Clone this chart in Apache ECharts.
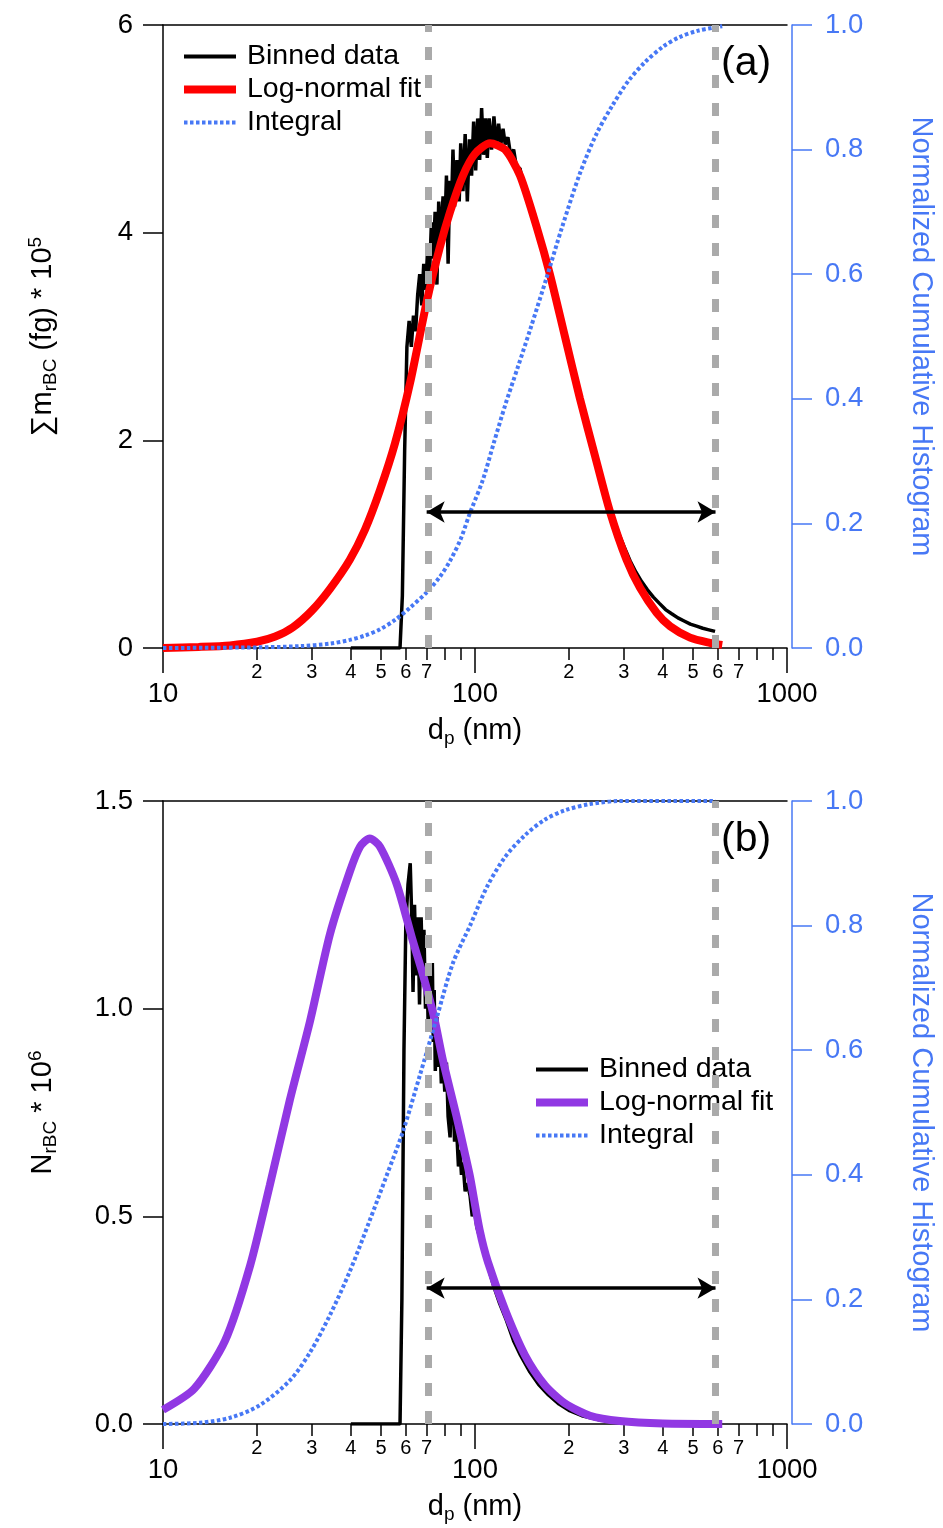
<!DOCTYPE html>
<html><head><meta charset="utf-8">
<script src="https://cdn.jsdelivr.net/npm/echarts@6/dist/echarts.min.js"></script>
<style>html,body{margin:0;padding:0;background:#fff}#c{width:943px;height:1528px}</style>
</head><body><div id="c"></div>
<script>
// ---------- tick labels ----------
const majorTicks = [10, 100, 1000];
const minorTicks = [20, 30, 40, 50, 60, 70, 80, 90, 200, 300, 400, 500, 600, 700, 800, 900];
const minorLabels = [20, 30, 40, 50, 60, 70, 200, 300, 400, 500, 600, 700];
const cutoffs = [70, 590];          // dashed lines, nm
const arrowLevelA = 1.31;          // arrow height, panel (a) left axis
const arrowLevelB = 0.327;         // arrow height, panel (b) left axis

// ---------- panel (a): [d (nm), value] ----------
const binnedA = [[40,0],[45,0],[50,0],[55,0],[57.5,0],[58.5,0.5],[59.5,1.9],[60.5,2.9],[61.5,3.15],[62.5,2.9],[63.5,3.2],[64.5,3.05],[65.5,3.4],[66.5,3.6],[67.5,3.3],[68.5,3.7],[69.5,3.45],[70.5,3.85],[71.5,3.6],[72.5,4.1],[73.5,3.75],[74.5,4.2],[75.5,3.5],[76.5,4.3],[77.5,3.9],[79,4.35],[80,4.0],[81,4.55],[82,3.7],[83,4.5],[84,4.2],[85,4.8],[86,4.25],[87.5,4.7],[89,4.3],[90,4.86],[91.5,4.4],[93,4.95],[94.5,4.3],[96,4.9],[97.5,4.55],[99,5.07],[100.5,4.6],[102,5.1],[103.5,4.7],[105,5.2],[106.5,4.75],[108,5.1],[109.5,4.72],[111,5.1],[113,4.8],[115,5.12],[117,4.82],[119,5.05],[121,4.85],[123,5.0],[125,4.85],[127.5,4.92],[130,4.75],[133,4.8],[136,4.62],[139.4,4.62],[143,4.45],[147,4.4],[151,4.25],[155,4.18],[159,4.05],[164,3.92],[169,3.78],[174,3.65],[180,3.45],[186,3.28],[194,3.05],[202,2.82],[210,2.62],[217,2.45],[226,2.22],[235,2.02],[245,1.82],[256,1.6],[266,1.42],[277,1.26],[289,1.1],[301,0.97],[314,0.84],[328,0.73],[342,0.64],[357,0.56],[373,0.49],[390,0.43],[408,0.37],[427,0.33],[447,0.29],[468,0.26],[490,0.23],[513,0.21],[537,0.19],[562,0.175],[588,0.16]];
const fitA = [[10,0.0],[13,0.01],[16.4,0.025],[20,0.06],[22.9,0.11],[26.1,0.2],[30,0.36],[34.3,0.57],[39.7,0.85],[44.4,1.14],[49.6,1.52],[55.4,1.97],[61.9,2.55],[70.2,3.35],[77,3.85],[83.2,4.2],[91.5,4.55],[100,4.76],[111.7,4.86],[124.8,4.8],[139.4,4.55],[158.5,4.03],[173.8,3.6],[194.2,3.0],[217,2.4],[242.5,1.85],[271,1.31],[306,0.85],[338,0.58],[382,0.34],[422,0.21],[489,0.1],[566,0.05],[620,0.03]];
const integralA = [[10,0],[20,0.001],[27.5,0.003],[34.3,0.007],[39.7,0.013],[44.4,0.02],[49.6,0.03],[55.4,0.045],[62,0.065],[70.2,0.09],[77.1,0.114],[83.2,0.14],[90,0.175],[96.4,0.217],[106,0.27],[115,0.33],[125,0.39],[137,0.45],[150,0.51],[170,0.596],[190,0.675],[217,0.762],[245,0.825],[275,0.87],[310,0.91],[350,0.94],[400,0.965],[450,0.98],[520,0.991],[620,0.998]];

// ---------- panel (b) ----------
const binnedB = [[40,0],[45,0],[50,0],[55,0],[57.5,0],[58.3,0.3],[59.2,0.9],[60,1.2],[61,1.3],[62,1.35],[62.8,1.2],[63.3,1.04],[64,1.25],[64.8,1.08],[65.6,1.22],[66.4,1.01],[67.2,1.22],[68,1.06],[68.6,1.19],[69.4,1.0],[70.2,1.11],[70.8,0.95],[71.6,1.1],[72.4,0.98],[73,1.11],[73.5,0.92],[74,1.045],[74.6,0.85],[75.5,0.98],[76.3,0.86],[77.1,0.93],[78,0.82],[79,0.88],[80,0.8],[81,0.87],[82,0.74],[83.2,0.69],[84,0.8],[85,0.79],[86,0.68],[87.3,0.71],[88.5,0.62],[89.5,0.66],[90.5,0.6],[91.5,0.63],[93,0.56],[94.5,0.58],[96.4,0.55],[98,0.5],[99.5,0.52],[101.3,0.475],[103.5,0.45],[106,0.42],[110,0.38],[115,0.33],[120,0.29],[126,0.25],[133,0.2],[140,0.165],[150,0.125],[160,0.095],[172,0.07],[186,0.048],[200,0.033],[220,0.02],[250,0.01],[290,0.005],[350,0.002],[450,0.001],[590,0]];
const fitB = [[10,0.034],[12.6,0.085],[15.8,0.2],[19,0.38],[22,0.575],[25.5,0.78],[29.6,0.97],[34.3,1.18],[39.7,1.33],[42.8,1.39],[46,1.41],[49.6,1.39],[56.1,1.3],[63.1,1.165],[68.2,1.08],[73.9,0.98],[78.9,0.876],[87.3,0.74],[92.9,0.65],[96.4,0.595],[103.5,0.467],[110,0.39],[124.8,0.275],[144.5,0.166],[167.3,0.094],[194,0.05],[233.6,0.02],[291,0.007],[400,0.001],[620,0]];
const integralB = [[10,0],[13.1,0.002],[16.4,0.01],[20.4,0.03],[25.5,0.07],[29.6,0.115],[34.3,0.175],[39.7,0.245],[46,0.327],[52.2,0.4],[58.8,0.47],[66.6,0.56],[75.5,0.653],[85,0.74],[96.4,0.8],[109.2,0.862],[124.8,0.91],[144.5,0.945],[167.3,0.97],[194.2,0.985],[233.6,0.995],[291,1.0],[591,1.0]];

// ---------- build ----------
const FONT = '"Liberation Sans", Arial, Helvetica, sans-serif';
const BLUE = '#4778f5';
const L = d => Math.log10(d);
const toXY = arr => arr.map(p => [L(p[0]), p[1]]);
const rich = {
  n: {fontSize: 29, fontFamily: FONT, color: '#000', lineHeight: 34},
  s: {fontSize: 19, fontFamily: FONT, color: '#000', verticalAlign: 'bottom', lineHeight: 15},
  p: {fontSize: 19, fontFamily: FONT, color: '#000', verticalAlign: 'top', lineHeight: 15}
};

function xAxes(g) {
  return [
    { gridIndex: g, type: 'value', min: 1, max: 3, position: 'bottom',
      axisLine: {show: true, onZero: false, lineStyle: {color: '#000', width: 1.5}},
      axisTick: {show: true, inside: false, length: 25, customValues: majorTicks.map(L), lineStyle: {color: '#000', width: 1.5}},
      axisLabel: {show: true, customValues: majorTicks.map(L), margin: 32, fontSize: 27.5, fontFamily: FONT, color: '#000',
        formatter: v => String(Math.round(Math.pow(10, v)))},
      splitLine: {show: false},
      name: '{n|d}{s|p}{n| (nm)}', nameLocation: 'middle', nameGap: 66,
      nameTextStyle: {rich: rich}
    },
    { gridIndex: g, type: 'value', min: 1, max: 3, position: 'bottom',
      axisLine: {show: false, onZero: false},
      axisTick: {show: true, inside: false, length: 12, customValues: minorTicks.map(L), lineStyle: {color: '#000', width: 1.5}},
      axisLabel: {show: true, customValues: minorLabels.map(L), margin: 14, fontSize: 20, fontFamily: FONT, color: '#000',
        formatter: v => { const d = Math.round(Math.pow(10, v)); return String(Math.round(d / Math.pow(10, Math.floor(Math.log10(d) + 1e-9)))); }},
      splitLine: {show: false}
    },
    { gridIndex: g, type: 'value', min: 1, max: 3, position: 'top',
      axisLine: {show: true, onZero: false, lineStyle: {color: '#000', width: 1.5}},
      axisTick: {show: false}, axisLabel: {show: false}, splitLine: {show: false}
    }
  ];
}
function yAxes(g, max, interval, name) {
  return [
    { gridIndex: g, type: 'value', min: 0, max: max, interval: interval, position: 'left',
      axisLine: {show: true, onZero: false, lineStyle: {color: '#000', width: 1.5}},
      axisTick: {show: true, inside: false, length: 20, lineStyle: {color: '#000', width: 1.5}},
      axisLabel: {margin: 30, fontSize: 27.5, fontFamily: FONT, color: '#000',
        formatter: v => (interval < 1 ? v.toFixed(1) : String(Math.round(v)))},
      splitLine: {show: false},
      name: name, nameLocation: 'middle', nameGap: 103, nameRotate: 90,
      nameTextStyle: {rich: rich}
    },
    { gridIndex: g, type: 'value', min: 0, max: 1, interval: 0.2, position: 'right', offset: 5,
      axisLine: {show: true, onZero: false, lineStyle: {color: BLUE, width: 1.5}},
      axisTick: {show: true, inside: false, length: 20, lineStyle: {color: BLUE, width: 1.5}},
      axisLabel: {margin: 33, fontSize: 27.5, fontFamily: FONT, color: BLUE, formatter: v => v.toFixed(1)},
      splitLine: {show: false},
      name: 'Normalized Cumulative Histogram', nameLocation: 'middle', nameGap: 114, nameRotate: -90,
      nameTextStyle: {fontSize: 29, fontFamily: FONT, color: BLUE}
    }
  ];
}

function guides(level) {
  const dash = {color: '#aaaaaa', width: 7, type: [13, 15]};
  return {
    silent: true, symbol: ['none', 'none'], label: {show: false}, animation: false,
    emphasis: {disabled: true},
    data: [
      {xAxis: L(cutoffs[0]), lineStyle: dash},
      {xAxis: L(cutoffs[1]), lineStyle: dash},
      [ {coord: [L(cutoffs[0]), level], symbol: 'arrow', symbolSize: [16, 18]},
        {coord: [L(cutoffs[1]), level], symbol: 'arrow', symbolSize: [16, 18],
         lineStyle: {color: '#000', width: 3.5, type: 'solid'}} ]
    ]
  };
}

function panelSeries(tag, xi, yl, yr, binned, fit, fitColor, integral, level) {
  return [
    { name: 'Binned data ' + tag, type: 'line', xAxisIndex: xi, yAxisIndex: yl, data: toXY(binned),
      symbol: 'none', showSymbol: false, lineStyle: {color: '#000', width: 3.5}, itemStyle: {color: '#000'},
      z: 2, markLine: guides(level) },
    { name: 'Log-normal fit ' + tag, type: 'line', xAxisIndex: xi, yAxisIndex: yl, data: toXY(fit), smooth: 0.25,
      symbol: 'none', showSymbol: false, lineStyle: {color: fitColor, width: 8}, itemStyle: {color: fitColor}, z: 3 },
    { name: 'Integral ' + tag, type: 'line', xAxisIndex: xi, yAxisIndex: yr, data: toXY(integral), smooth: 0.3,
      symbol: 'none', showSymbol: false, lineStyle: {color: BLUE, width: 4, type: [3.5, 2.5]}, itemStyle: {color: BLUE}, z: 4 }
  ];
}

function legend(tag, fitColor, left, top) {
  const hide = {opacity: 0};
  return {
    orient: 'vertical', left: left, top: top, padding: 0, itemWidth: 52, itemHeight: 16, itemGap: 4,
    selectedMode: false,
    textStyle: {fontSize: 28.5, fontFamily: FONT, color: '#000', lineHeight: 28, padding: [0, 0, 0, 6]},
    formatter: n => n.replace(/ \([ab]\)$/, ''),
    data: [
      {name: 'Binned data ' + tag, itemStyle: hide, lineStyle: {width: 4, color: '#000', type: 'solid'}},
      {name: 'Log-normal fit ' + tag, itemStyle: hide, lineStyle: {width: 8, color: fitColor, type: 'solid'}},
      {name: 'Integral ' + tag, itemStyle: hide, lineStyle: {width: 4, color: BLUE, type: [3.5, 2.5]}}
    ]
  };
}

const chart = echarts.init(document.getElementById('c'), null, {renderer: 'canvas'});
chart.setOption({
  animation: false,
  backgroundColor: '#fff',
  grid: [
    {left: 163, top: 25, width: 624, height: 623},
    {left: 163, top: 801, width: 624, height: 623}
  ],
  title: [
    {text: '(a)', left: 721, top: 43, padding: 0, textStyle: {fontSize: 41, fontWeight: 'normal', fontFamily: FONT, color: '#000'}},
    {text: '(b)', left: 721, top: 819, padding: 0, textStyle: {fontSize: 41, fontWeight: 'normal', fontFamily: FONT, color: '#000'}}
  ],
  legend: [legend('(a)', '#ff0000', 180, 42), legend('(b)', '#9138e3', 532, 1055)],
  xAxis: [...xAxes(0), ...xAxes(1)],
  yAxis: [...yAxes(0, 6, 2, '{n|∑m}{s|rBC}{n| (fg) * 10}{p|5}'), ...yAxes(1, 1.5, 0.5, '{n|N}{s|rBC}{n| * 10}{p|6}')],
  series: [
    ...panelSeries('(a)', 0, 0, 1, binnedA, fitA, '#ff0000', integralA, arrowLevelA),
    ...panelSeries('(b)', 3, 2, 3, binnedB, fitB, '#9138e3', integralB, arrowLevelB)
  ]
});
</script></body></html>
